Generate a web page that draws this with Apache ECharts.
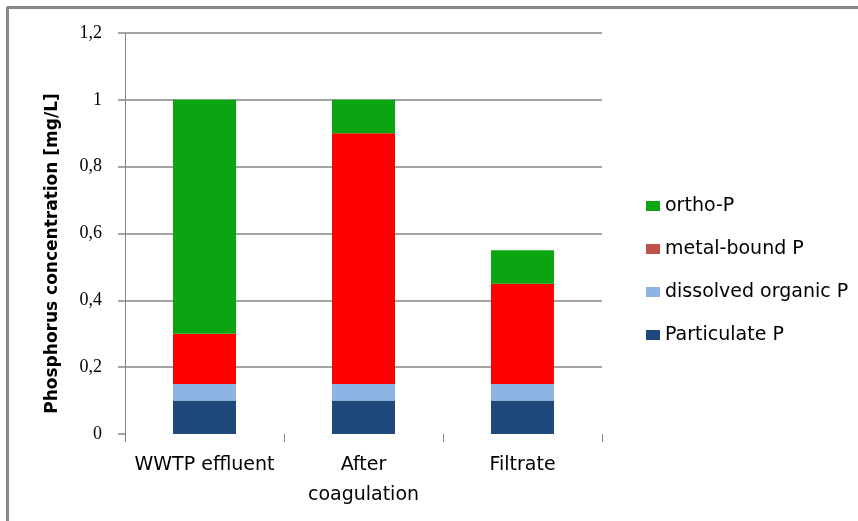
<!DOCTYPE html>
<html>
<head>
<meta charset="utf-8">
<script src="https://cdn.jsdelivr.net/npm/echarts@6/dist/echarts.min.js"></script>
<style>
html,body{margin:0;padding:0;background:#fff;}
#chart{width:858px;height:521px;}
</style>
</head>
<body>
<div id="chart"></div>
<script>
var categories = ['WWTP effluent', 'After\ncoagulation', 'Filtrate'];
var particulateP = [0.10, 0.10, 0.10];
var dissolvedOrganicP = [0.05, 0.05, 0.05];
var metalBoundP = [0.15, 0.75, 0.30];
var orthoP = [0.70, 0.10, 0.10];
var legendOrder = ['ortho-P', 'metal-bound P', 'dissolved organic P', 'Particulate P'];
var yTicks = { min: 0, max: 1.2, interval: 0.2 };

var chart = echarts.init(document.getElementById('chart'), null, { renderer: 'canvas' });
var axisGray = '#868686';
var fontFam = 'DejaVu Sans';

function barSeries(name, data, color, barColor) {
  return {
    name: name,
    type: 'bar',
    stack: 'p',
    barWidth: 63,
    itemStyle: { color: color },
    data: data.map(function (v) {
      return barColor ? { value: v, itemStyle: { color: barColor } } : v;
    })
  };
}

chart.setOption({
  animation: false,
  backgroundColor: '#ffffff',
  textStyle: { fontFamily: fontFam },
  grid: { left: 125, right: 256, top: 33, bottom: 87, containLabel: false },
  graphic: [
    { type: 'line', shape: { x1: 7, y1: 7.5, x2: 858, y2: 7.5 }, style: { stroke: '#888888', lineWidth: 3 } },
    { type: 'line', shape: { x1: 7.5, y1: 7, x2: 7.5, y2: 521 }, style: { stroke: '#888888', lineWidth: 3 } }
  ],
  legend: {
    data: legendOrder,
    orient: 'vertical',
    left: 641,
    top: 191,
    itemWidth: 14,
    itemHeight: 10,
    itemGap: 23,
    icon: 'rect',
    textStyle: { fontFamily: fontFam, fontSize: 19, color: '#000', lineHeight: 20 }
  },
  xAxis: {
    type: 'category',
    data: categories,
    axisLine: { show: false },
    axisTick: { show: true, length: 8, alignWithLabel: false, lineStyle: { color: axisGray } },
    axisLabel: { color: '#000', fontFamily: fontFam, fontSize: 19, lineHeight: 30, margin: 16, interval: 0 },
    splitLine: { show: false }
  },
  yAxis: {
    type: 'value',
    min: yTicks.min,
    max: yTicks.max,
    interval: yTicks.interval,
    name: 'Phosphorus concentration [mg/L]',
    nameLocation: 'middle',
    nameGap: 64,
    nameRotate: 90,
    nameTextStyle: { fontFamily: fontFam, fontSize: 17, fontWeight: 'bold', color: '#000', padding: [0, 40, 0, 0] },
    axisLine: { show: true, lineStyle: { color: axisGray } },
    axisTick: { show: true, length: 7, lineStyle: { color: axisGray, width: 1.5 } },
    axisLabel: {
      color: '#000', fontFamily: 'Liberation Serif', fontSize: 18, margin: 23,
      formatter: function (v) { return String(Math.round(v * 10) / 10).replace('.', ','); }
    },
    splitLine: { show: true, showMinLine: false, lineStyle: { color: axisGray, width: 1.5 } }
  },
  series: [
    barSeries('Particulate P', particulateP, '#1F497D'),
    barSeries('dissolved organic P', dissolvedOrganicP, '#8EB4E3'),
    barSeries('metal-bound P', metalBoundP, '#C0504D', '#FF0000'),
    barSeries('ortho-P', orthoP, '#0BA512')
  ]
});
</script>
</body>
</html>
